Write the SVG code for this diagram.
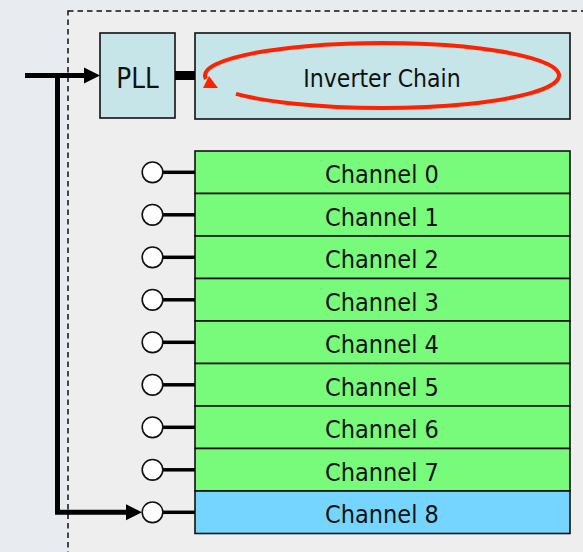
<svg xmlns="http://www.w3.org/2000/svg" width="583" height="552" viewBox="0 0 583 552">
<defs>
<style>
.lbl{font-family:'DejaVu Sans Condensed','DejaVu Sans',sans-serif;font-size:25px;fill:#111;text-anchor:middle}
.box{stroke:#111;stroke-width:1.6}
.g{fill:#78fa7a}
.b{fill:#76d5ff}
.c{fill:#c5e5e8}
.port{fill:#fff;stroke:#111;stroke-width:1.6}
.stub{stroke:#000;stroke-width:3.5}
.wire{stroke:#000;stroke-width:5;fill:none;stroke-linejoin:miter}
</style>
</defs>
<rect x="0" y="0" width="583" height="552" fill="#e8ebef"/>
<rect x="68" y="11" width="530" height="560" fill="#eeeeee" stroke="#111" stroke-width="1.5" stroke-dasharray="5.5,4"/>

<g id="pll">
<rect class="box c" x="100" y="33" width="75" height="85"/>
<text class="lbl" x="137.5" y="87.5" style="font-size:27.5px">PLL</text>
</g>
<g id="inverter-chain">
<rect class="box c" x="195" y="33" width="375" height="86"/>
<text class="lbl" x="382" y="87" style="font-size:24.5px">Inverter Chain</text>
<path d="M236,93.9 A177,32.5 0 1 0 206,79" fill="none" stroke="#ff2200" stroke-width="4"/>
<polygon points="203,88 218,88 209,76" fill="#ff2200"/>
</g>

<g id="ch0"><rect class="box g" x="195" y="151" width="375" height="42.5"/><text class="lbl" x="382" y="183.3">Channel 0</text></g>
<g id="ch1"><rect class="box g" x="195" y="193.5" width="375" height="42.5"/><text class="lbl" x="382" y="225.8">Channel 1</text></g>
<g id="ch2"><rect class="box g" x="195" y="236" width="375" height="42.5"/><text class="lbl" x="382" y="268.3">Channel 2</text></g>
<g id="ch3"><rect class="box g" x="195" y="278.5" width="375" height="42.5"/><text class="lbl" x="382" y="310.8">Channel 3</text></g>
<g id="ch4"><rect class="box g" x="195" y="321" width="375" height="42.5"/><text class="lbl" x="382" y="353.3">Channel 4</text></g>
<g id="ch5"><rect class="box g" x="195" y="363.5" width="375" height="42.5"/><text class="lbl" x="382" y="395.8">Channel 5</text></g>
<g id="ch6"><rect class="box g" x="195" y="406" width="375" height="42.5"/><text class="lbl" x="382" y="438.3">Channel 6</text></g>
<g id="ch7"><rect class="box g" x="195" y="448.5" width="375" height="42.5"/><text class="lbl" x="382" y="480.8">Channel 7</text></g>
<g id="ch8"><rect class="box b" x="195" y="491" width="375" height="42.5"/><text class="lbl" x="382" y="523.3">Channel 8</text></g>

<g id="connectors">
<rect x="175" y="71" width="20" height="9" fill="#000"/>
<g class="stub">
<line x1="163" y1="172.3" x2="195" y2="172.3"/>
<line x1="163" y1="214.8" x2="195" y2="214.8"/>
<line x1="163" y1="257.3" x2="195" y2="257.3"/>
<line x1="163" y1="299.8" x2="195" y2="299.8"/>
<line x1="163" y1="342.3" x2="195" y2="342.3"/>
<line x1="163" y1="384.8" x2="195" y2="384.8"/>
<line x1="163" y1="427.3" x2="195" y2="427.3"/>
<line x1="163" y1="469.8" x2="195" y2="469.8"/>
<line x1="163" y1="512.3" x2="195" y2="512.3"/>
</g>
<line class="wire" x1="25" y1="75.5" x2="85" y2="75.5"/>
<polygon points="84,67.5 100,75.5 84,83.5" fill="#000"/>
<polyline class="wire" points="57.5,73 57.5,512.3 127,512.3"/>
<polygon points="126,504.3 142,512.3 126,520.3" fill="#000"/>
<g id="ports">
<circle class="port" cx="152.5" cy="172.3" r="10.3"/>
<circle class="port" cx="152.5" cy="214.8" r="10.3"/>
<circle class="port" cx="152.5" cy="257.3" r="10.3"/>
<circle class="port" cx="152.5" cy="299.8" r="10.3"/>
<circle class="port" cx="152.5" cy="342.3" r="10.3"/>
<circle class="port" cx="152.5" cy="384.8" r="10.3"/>
<circle class="port" cx="152.5" cy="427.3" r="10.3"/>
<circle class="port" cx="152.5" cy="469.8" r="10.3"/>
<circle class="port" cx="152.5" cy="512.3" r="10.3"/>
</g>
</g>
</svg>
